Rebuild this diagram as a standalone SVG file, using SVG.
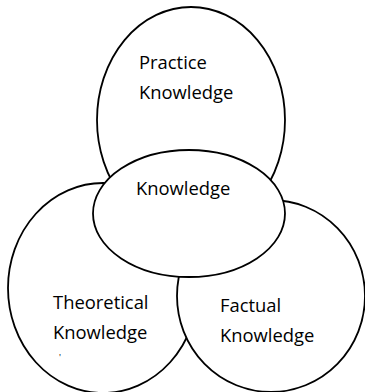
<svg xmlns="http://www.w3.org/2000/svg" width="365" height="392" viewBox="0 0 365 392">
<style>
.shape{fill:#fff;stroke:#000;stroke-width:1.8}
.lbl{font-family:"Open Sans","Noto Sans","Liberation Sans",sans-serif;font-size:18.4px;fill:#000}
</style>
<rect width="365" height="392" fill="#fff"/>
<g id="practice">
<ellipse class="shape" cx="191" cy="120" rx="94" ry="113"/>
<text class="lbl" x="139" y="69">Practice</text>
<text class="lbl" x="139" y="99">Knowledge</text>
</g>
<g id="theoretical">
<ellipse class="shape" cx="103" cy="288" rx="95" ry="105"/>
<text class="lbl" x="53" y="309">Theoretical</text>
<text class="lbl" x="53" y="339">Knowledge</text>
<text class="lbl" x="59" y="361" style="font-size:9px">'</text>
</g>
<g id="factual">
<ellipse class="shape" cx="271" cy="296" rx="94" ry="96"/>
<text class="lbl" x="220" y="312">Factual</text>
<text class="lbl" x="220" y="342">Knowledge</text>
</g>
<g id="knowledge">
<ellipse class="shape" cx="189" cy="213.5" rx="96" ry="63.5"/>
<text class="lbl" x="136" y="195">Knowledge</text>
</g>
<g id="connectors"/>
</svg>
